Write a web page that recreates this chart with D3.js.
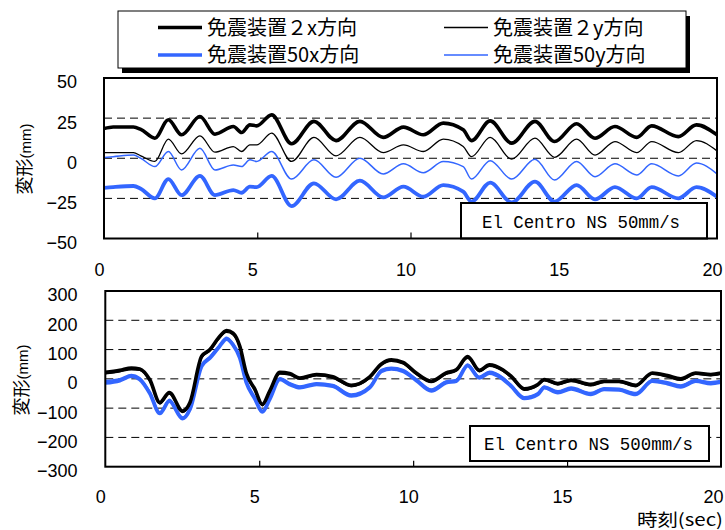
<!DOCTYPE html>
<html><head><meta charset="utf-8">
<script src="https://cdn.jsdelivr.net/npm/d3@7"></script>
<style>body{margin:0;background:#fff;}svg{display:block;}</style>
</head><body>
<svg id="c" width="725" height="530"></svg>
<script>
// ---------- data ----------
const seriesNames = ["免震装置２x方向", "免震装置２y方向", "免震装置50x方向", "免震装置50y方向"];
const xTicks = [0, 5, 10, 15, 20];
const topYTicks = [-50, -25, 0, 25, 50];
const bottomYTicks = [-300, -200, -100, 0, 100, 200, 300];
const topNote = "El Centro NS 50mm/s";
const bottomNote = "El Centro NS 500mm/s";

// Top panel (50 mm/s)
const timeTop = [0, 0.3, 0.96, 1.2, 1.66, 2.1, 2.53, 3.13, 3.62, 4.22, 4.49, 4.76, 4.98, 5.47, 6.12, 6.85, 7.57, 8.35, 9.11, 9.77, 10.42, 11.07, 11.72, 11.99, 12.6, 13.3, 14.06, 14.7, 15.42, 16.02, 16.67, 17.38, 17.87, 18.74, 19.33, 20];
const top2x  = [18.5, 19.5, 19.5, 18, 12.5, 24, 14.6, 26, 15, 19.8, 16, 20.8, 20.2, 27, 9, 23, 11, 23, 13, 19.4, 14.6, 21.9, 17.7, 11, 23.3, 9.4, 23, 10.4, 21.5, 12.5, 19.8, 13, 20.2, 13.5, 20.8, 14.6];
const top2y  = [3.5, 3.5, 3.5, 1.5, -2, 11.9, 2.7, 14, 3.8, 7.3, 4.2, 8.3, 8.3, 15.6, -2, 13, 1.5, 13, 3.5, 8.3, 4.2, 11.9, 7.3, 1, 13, -0.6, 12.5, 0.6, 11.9, 2, 10.4, 3.5, 10.4, 3.5, 11, 4.6];
const top50x = [-18.5, -18, -17.3, -19, -25, -13, -23, -11, -23, -19.8, -21.5, -17.7, -18, -11, -29.8, -15.6, -25.6, -14, -24.4, -17.7, -24, -16.7, -20.8, -27, -15.2, -27.5, -14.6, -27, -16.7, -25.6, -18, -25, -18, -25, -18, -24];
const top50y = [0.5, 1, 2, 0, -5.2, 4.2, -7.3, 6.2, -7.3, -4.2, -5.2, -1, -2, 4.2, -13, -1, -11.9, 0, -9.8, -3.5, -9, -2, -5.2, -13, -1.5, -13, -0.6, -13.5, -2, -11.5, -3.5, -10.4, -3.5, -11, -3, -9.8];

// Bottom panel (500 mm/s)
const timeBot = [0, 0.47, 0.85, 1.12, 1.45, 1.77, 2.08, 2.51, 2.75, 3.13, 3.4, 3.67, 3.94, 4.15, 4.37, 4.58, 4.86, 5.1, 5.34, 5.67, 5.99, 6.32, 6.86, 7.39, 7.99, 8.59, 8.97, 9.29, 9.67, 10.1, 10.59, 11.07, 11.4, 11.77, 12.15, 12.48, 12.91, 13.18, 13.61, 14.05, 14.26, 14.7, 15.13, 15.77, 16.2, 16.69, 17.23, 17.77, 18.26, 18.69, 19.18, 19.67, 20];
const bot2x  = [22, 29, 37, 34, -4, -81, -47, -110, -81, 77, 100, 139, 165, 156, 111, 20, -36, -87, -42, 22, 18, 3, 15, 7, -22, 7, 51, 65, 56, 20, -8, 20, 31, 76, 29, 48, 31, 9, -34, -19, -2, -16, -4, -19, -8, -8, -22, 20, 11, 0, 20, 15, 20];
const bot2y  = [17, 24, 31, 29, -9, -86, -52, -115, -86, 71, 95, 133, 159, 150, 105, 15, -41, -92, -47, 16, 13, -2, 10, 2, -27, 2, 46, 60, 51, 15, -13, 15, 26, 70, 24, 43, 26, 4, -39, -24, -7, -21, -9, -24, -13, -13, -27, 15, 6, -5, 15, 10, 15];
const bot50x = [-14, -6, 9, -2, -50, -118, -76, -136, -104, 43, 71, 105, 136, 116, 72, -12, -68, -113, -70, -2, -19, -30, -19, -25, -58, -30, 26, 34, 26, -5, -41, -13, -8, 45, 3, 20, 0, -25, -67, -53, -30, -47, -34, -53, -36, -38, -53, -8, -16, -27, -8, -16, -11];
const bot50y = [-6, 0, 15, 4, -44, -112, -70, -130, -98, 49, 77, 111, 142, 122, 78, -6, -62, -107, -64, 4, -13, -24, -13, -19, -52, -24, 32, 40, 32, 1, -35, -7, -2, 51, 9, 26, 6, -19, -61, -47, -24, -41, -28, -47, -30, -32, -47, -2, -10, -21, -2, -10, -5];

// ---------- styles ----------
const BLUE = "#3366ff";
const styles = [
  {color: "#000", width: 3.6},
  {color: "#000", width: 1.3},
  {color: BLUE, width: 3.8},
  {color: BLUE, width: 1.5}
];
const numFont = "'Liberation Sans', Arial, sans-serif";
const cjkFont = "'Noto Sans CJK JP', 'Noto Sans', sans-serif";
const monoFont = "'Liberation Mono', 'DejaVu Sans Mono', monospace";

const svg = d3.select("#c");

// ---------- legend ----------
const lg = svg.append("g");
lg.append("rect").attr("x", 122).attr("y", 16).attr("width", 568).attr("height", 57).attr("fill", "#000");
lg.append("rect").attr("x", 118).attr("y", 11).attr("width", 568).attr("height", 57)
  .attr("fill", "#fff").attr("stroke", "#000").attr("stroke-width", 1);
const legPos = [[158, 27.5], [444, 27.5], [158, 55], [444, 55]];
seriesNames.forEach((n, i) => {
  const [lx, ly] = legPos[i];
  lg.append("line").attr("x1", lx).attr("x2", lx + 44).attr("y1", ly).attr("y2", ly)
    .attr("stroke", styles[i].color).attr("stroke-width", i % 2 === 0 ? 3.5 : 1.4);
  lg.append("text").attr("x", lx + 49).attr("y", ly).attr("dy", "0.36em")
    .attr("font-family", cjkFont).attr("font-size", 20).attr("fill", "#000").text(n);
});

// ---------- panels ----------
function panel(cfg) {
  const x = d3.scaleLinear().domain([0, 20]).range([cfg.left, cfg.right]);
  const y = d3.scaleLinear().domain(cfg.yDomain).range([cfg.bottom, cfg.top]);
  const g = svg.append("g");
  const clipId = "clip" + cfg.id;
  svg.append("clipPath").attr("id", clipId).append("rect")
    .attr("x", cfg.left).attr("y", cfg.top - 1).attr("width", cfg.right - cfg.left).attr("height", cfg.bottom - cfg.top + 2);

  // dashed gridlines
  g.selectAll(".grid").data(cfg.yTicks.filter(v => v !== cfg.yDomain[0] && v !== cfg.yDomain[1]))
    .enter().append("line")
    .attr("x1", cfg.left).attr("x2", cfg.right)
    .attr("y1", d => y(d)).attr("y2", d => y(d))
    .attr("stroke", "#000").attr("stroke-width", 1).attr("stroke-dasharray", "8,5");

  // y axis labels
  const yAxis = d3.axisLeft(y).tickValues(cfg.yTicks).tickSize(0).tickPadding(0)
    .tickFormat(d => d < 0 ? "\u2212" + Math.abs(d) : String(d));
  const ya = g.append("g").attr("transform", `translate(${cfg.labelRight},0)`).call(yAxis);
  ya.select(".domain").remove();
  ya.selectAll("text").attr("font-family", numFont).attr("font-size", 18).attr("fill", "#000")
    .attr("dy", "0.55em");

  // x axis: inward ticks + labels
  const xAxisTicks = d3.axisTop(x).tickValues(xTicks.slice(1, -1)).tickSize(6).tickFormat("");
  const xt = g.append("g").attr("transform", `translate(0,${cfg.bottom})`).call(xAxisTicks);
  xt.select(".domain").remove();
  xt.selectAll("line").attr("stroke", "#000").attr("stroke-width", 1.2);
  const xAxis = d3.axisBottom(x).tickValues(xTicks).tickSize(0).tickPadding(0);
  const xa = g.append("g").attr("transform", `translate(0,${cfg.xLabelY})`).call(xAxis);
  xa.select(".domain").remove();
  xa.selectAll("text").attr("font-family", numFont).attr("font-size", 18).attr("fill", "#000")
    .attr("dy", "0.35em").attr("dx", d => (d === 20 ? cfg.lastDx : -5));

  // lines
  const lineGen = d3.line().x(d => x(d[0])).y(d => y(d[1])).curve(d3.curveMonotoneX);
  const lg2 = g.append("g").attr("clip-path", `url(#${clipId})`);
  const order = [2, 3, 0, 1];
  order.forEach(i => {
    const pts = cfg.time.map((t, k) => [t, cfg.series[i][k]]);
    lg2.append("path").datum(pts).attr("d", lineGen).attr("fill", "none")
      .attr("stroke", styles[i].color).attr("stroke-width", styles[i].width)
      .attr("stroke-linejoin", "round").attr("stroke-linecap", "round");
  });

  // note box
  g.append("rect").attr("x", cfg.note.x).attr("y", cfg.note.y).attr("width", cfg.note.w).attr("height", cfg.note.h)
    .attr("fill", "#fff").attr("stroke", "#000").attr("stroke-width", 2);
  g.append("text").attr("x", cfg.note.tx).attr("y", cfg.note.y + cfg.note.h / 2).attr("dy", "0.36em")
    .attr("font-family", monoFont).attr("font-size", 19).attr("fill", "#000")
    .attr("textLength", cfg.note.tl).attr("lengthAdjust", "spacingAndGlyphs")
    .text(cfg.note.text);

  // border
  g.append("rect").attr("x", cfg.left).attr("y", cfg.top).attr("width", cfg.right - cfg.left).attr("height", cfg.bottom - cfg.top)
    .attr("fill", "none").attr("stroke", "#000").attr("stroke-width", 2);

  // y title
  const yt = g.append("text").attr("transform", `translate(${cfg.titleX},${cfg.titleY}) rotate(-90)`)
    .attr("text-anchor", "middle").attr("dy", "0.36em").attr("fill", "#000");
  yt.append("tspan").attr("font-family", cjkFont).attr("font-size", 18).text("変形");
  yt.append("tspan").attr("font-family", numFont).attr("font-size", 15).text("(mm)");
  return {x, y};
}

panel({
  id: "top", left: 104, right: 717, top: 78, bottom: 238.5, yDomain: [-50, 50], yTicks: topYTicks,
  labelRight: 77, xLabelY: 270, titleX: 25, titleY: 159, lastDx: -5,
  time: timeTop, series: [top2x, top2y, top50x, top50y],
  note: {x: 461, y: 203, w: 246, h: 35.5, tx: 482, tl: 198, text: topNote}
});
panel({
  id: "bot", left: 105.3, right: 721, top: 291, bottom: 466.7, yDomain: [-300, 300], yTicks: bottomYTicks,
  labelRight: 77.5, xLabelY: 497, titleX: 22, titleY: 380, lastDx: -8,
  time: timeBot, series: [bot2x, bot2y, bot50x, bot50y],
  note: {x: 470, y: 426, w: 239, h: 35, tx: 484, tl: 209, text: bottomNote}
});

// x title
svg.append("text").attr("x", 637).attr("y", 519.5).attr("dy", "0.36em")
  .attr("font-family", cjkFont).attr("font-size", 17).attr("fill", "#000")
  .attr("textLength", 86).attr("lengthAdjust", "spacingAndGlyphs")
  .text("時刻(sec)");
</script>
</body></html>
